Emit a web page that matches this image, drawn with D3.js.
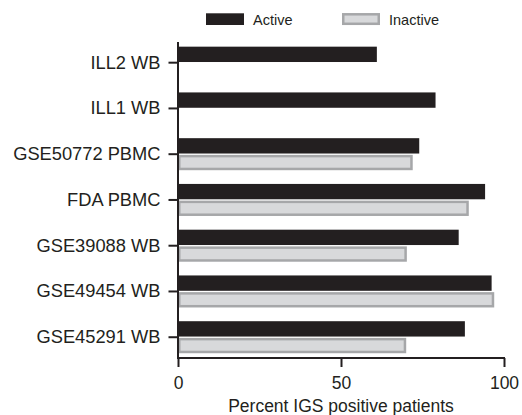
<!DOCTYPE html>
<html>
<head>
<meta charset="utf-8">
<script src="https://cdn.jsdelivr.net/npm/d3@7"></script>
<style>
  html, body { margin: 0; padding: 0; background: #fff; }
  svg { display: block; font-family: "Liberation Sans", Arial, Helvetica, sans-serif; }
  .axis text { font-size: 17.5px; fill: #231f20; }
  .y-axis text { font-size: 18.3px; }
  .axis line, .axis path { stroke: #231f20; stroke-width: 2; }
</style>
</head>
<body>
<div id="chart"></div>
<script>
// Data (percent IGS positive patients)
const categories = ["ILL2 WB", "ILL1 WB", "GSE50772 PBMC", "FDA PBMC", "GSE39088 WB", "GSE49454 WB", "GSE45291 WB"];
const activePct = [61, 79, 74, 94.2, 86.1, 96.2, 88];
const inactivePct = [null, null, 72, 89.2, 70.2, 97, 70];
const seriesNames = ["Active", "Inactive"];
const xTicks = [0, 50, 100];

const width = 522;
const height = 415;
const xAxisY = 358;   // where the bottom axis sits
const axisTop = 42;   // top of the vertical axis line

const barDark = "#231f20";
const inactiveFill = "#d8d9db";
const inactiveStroke = "#a6a7a9";

// rows built from the arrays above
const rows = categories.map((c, i) => ({
  category: c,
  values: [
    { series: "Active", value: activePct[i] },
    { series: "Inactive", value: inactivePct[i] }
  ].filter(v => v.value != null)
}));

const svg = d3.select("#chart")
  .append("svg")
  .attr("width", width)
  .attr("height", height);

// Scales
const xScale = d3.scaleLinear()
  .domain([0, 100])
  .range([178, 504]);

const yScale = d3.scaleBand()
  .domain(categories)
  .range([39.8, 360.1])
  .paddingInner(0.3)
  .paddingOuter(0.15);

const ySub = d3.scaleBand()
  .domain(seriesNames)
  .range([0, yScale.bandwidth()])
  .paddingInner(0.08);

/*----------------------------- */
// Bars

const groups = svg.selectAll("g.cat")
  .data(rows)
  .join("g")
    .attr("class", "cat")
    .attr("transform", d => `translate(0, ${yScale(d.category)})`);

groups.selectAll("rect")
  .data(d => d.values)
  .join("rect")
    .attr("x", d => d.series === "Active" ? xScale(0) : xScale(0) + 1.25)
    .attr("y", d => d.series === "Active" ? ySub(d.series) : ySub(d.series) + 1.25)
    .attr("width", d => d.series === "Active"
      ? xScale(d.value) - xScale(0)
      : xScale(d.value) - xScale(0) - 2.5)
    .attr("height", d => d.series === "Active" ? ySub.bandwidth() : ySub.bandwidth() - 2.5)
    .attr("fill", d => d.series === "Active" ? barDark : inactiveFill)
    .attr("stroke", d => d.series === "Active" ? "none" : inactiveStroke)
    .attr("stroke-width", 2.5);

/*----------------------------- */
// Axes

const yAxis = svg.append("g")
  .attr("class", "axis y-axis")
  .attr("transform", `translate(${xScale(0)}, 0)`)
  .call(d3.axisLeft(yScale).tickSize(9.5).tickPadding(8).tickSizeOuter(0));

yAxis.select(".domain").remove();

// vertical axis line stops at the bottom axis
yAxis.append("line")
  .attr("x1", 0)
  .attr("x2", 0)
  .attr("y1", axisTop)
  .attr("y2", xAxisY + 1);

const xAxis = svg.append("g")
  .attr("class", "axis x-axis")
  .attr("transform", `translate(0, ${xAxisY})`)
  .call(d3.axisBottom(xScale).tickValues(xTicks).tickSize(9).tickPadding(10).tickSizeOuter(0));

xAxis.select(".domain")
  .attr("d", `M${xScale(0) - 1},0H${xScale(100) + 1}`);

svg.append("text")
  .attr("x", xScale(50))
  .attr("y", 412)
  .attr("text-anchor", "middle")
  .attr("font-size", "17.5px")
  .attr("fill", barDark)
  .text("Percent IGS positive patients");

/*----------------------------- */
// Legend

const legend = svg.append("g")
  .attr("class", "legend")
  .attr("transform", "translate(206, 13)");

const legendItem = legend.selectAll("g")
  .data(seriesNames)
  .join("g")
    .attr("transform", (d, i) => `translate(${i * 136}, 0)`);

legendItem.append("rect")
  .attr("x", d => d === "Active" ? 0 : 1.25)
  .attr("y", d => d === "Active" ? 0.3 : 1.3)
  .attr("width", d => d === "Active" ? 38 : 35.5)
  .attr("height", d => d === "Active" ? 11.7 : 9.5)
  .attr("fill", d => d === "Active" ? barDark : inactiveFill)
  .attr("stroke", d => d === "Active" ? "none" : inactiveStroke)
  .attr("stroke-width", 2.5);

legendItem.append("text")
  .attr("x", 47)
  .attr("y", 11.8)
  .attr("font-size", "14.5px")
  .attr("fill", barDark)
  .text(d => d);
</script>
</body>
</html>
